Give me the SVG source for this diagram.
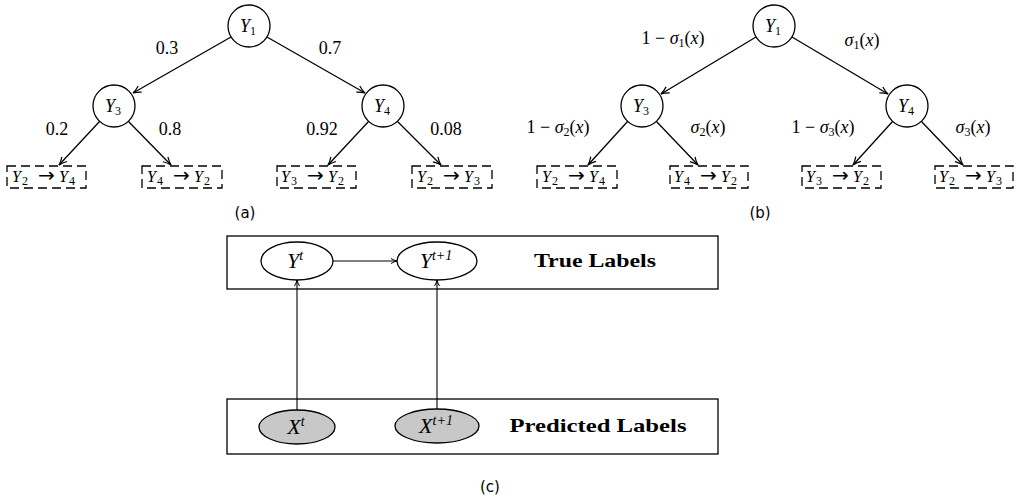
<svg xmlns="http://www.w3.org/2000/svg" width="1031" height="502" viewBox="0 0 1031 502">
<style>
.node{fill:#fff;stroke:#000;stroke-width:1.3}
.obs{fill:#c8c8c8;stroke:#000;stroke-width:1.3}
.edge{stroke:#000;stroke-width:1.3;fill:none;marker-end:url(#arr)}
.edge2{stroke:#000;stroke-width:1.1;fill:none;marker-end:url(#arr2)}
.leaf{fill:none;stroke:#000;stroke-width:1.3;stroke-dasharray:9,5}
.plate{fill:none;stroke:#000;stroke-width:1.3}
text{fill:#000;font-family:"Liberation Serif","Times New Roman","DejaVu Serif",serif}
.m{font-style:italic;font-size:18px}
.lf{font-style:italic;font-size:16px}
.n{font-size:18px}
.s{font-family:"DejaVu Sans","Liberation Sans",sans-serif;font-size:15px}
.b{font-weight:bold;font-size:19px}
.cv{font-style:italic;font-size:22px}
.sub{font-size:12px;font-style:normal}
.sup{font-size:14px}
.ar{font-style:normal;font-size:20px;font-family:"DejaVu Sans",sans-serif}
</style>
<defs>
<marker id="arr" markerUnits="userSpaceOnUse" markerWidth="12" markerHeight="10" refX="9" refY="5" orient="auto">
<path d="M1,1.5 Q5,4 9,5 Q5,6 1,8.5" fill="none" stroke="#000" stroke-width="1.2"/>
</marker>
<marker id="arr2" markerUnits="userSpaceOnUse" markerWidth="10" markerHeight="8" refX="7" refY="4" orient="auto">
<path d="M1,1.5 Q4,3.4 7,4 Q4,4.6 1,6.5" fill="none" stroke="#000" stroke-width="1"/>
</marker>
</defs>

<g id="connectors">
<line class="edge" x1="231" y1="37" x2="133" y2="93"/>
<line class="edge" x1="267" y1="37" x2="365" y2="93"/>
<line class="edge" x1="100" y1="121" x2="59" y2="165"/>
<line class="edge" x1="128" y1="121" x2="171" y2="165"/>
<line class="edge" x1="369" y1="121" x2="328" y2="165"/>
<line class="edge" x1="397" y1="121" x2="441" y2="165"/>
<line class="edge" x1="756" y1="37" x2="661" y2="94"/>
<line class="edge" x1="792" y1="37" x2="888" y2="94"/>
<line class="edge" x1="628" y1="121" x2="588" y2="165"/>
<line class="edge" x1="656" y1="121" x2="698" y2="165"/>
<line class="edge" x1="893" y1="121" x2="853" y2="165"/>
<line class="edge" x1="921" y1="121" x2="963" y2="165"/>
<line class="edge2" x1="333" y1="261" x2="397" y2="261"/>
<line class="edge2" x1="297" y1="410" x2="297" y2="280"/>
<line class="edge2" x1="437" y1="409" x2="437" y2="280"/>
</g>

<g id="labels-a">
<text class="n" x="167" y="54" text-anchor="middle">0.3</text>
<text class="n" x="330" y="54" text-anchor="middle">0.7</text>
<text class="n" x="57" y="135" text-anchor="middle">0.2</text>
<text class="n" x="170" y="135" text-anchor="middle">0.8</text>
<text class="n" x="322" y="135" text-anchor="middle">0.92</text>
<text class="n" x="446" y="135" text-anchor="middle">0.08</text>
</g>

<g id="labels-b">
<text class="n" x="673" y="44" text-anchor="middle">1 − <tspan font-style="italic">σ</tspan><tspan class="sub" dy="3">1</tspan><tspan dy="-3">(</tspan><tspan font-style="italic">x</tspan>)</text>
<text class="n" x="862" y="46" text-anchor="middle"><tspan font-style="italic">σ</tspan><tspan class="sub" dy="3">1</tspan><tspan dy="-3">(</tspan><tspan font-style="italic">x</tspan>)</text>
<text class="n" x="558" y="133" text-anchor="middle">1 − <tspan font-style="italic">σ</tspan><tspan class="sub" dy="3">2</tspan><tspan dy="-3">(</tspan><tspan font-style="italic">x</tspan>)</text>
<text class="n" x="708" y="133" text-anchor="middle"><tspan font-style="italic">σ</tspan><tspan class="sub" dy="3">2</tspan><tspan dy="-3">(</tspan><tspan font-style="italic">x</tspan>)</text>
<text class="n" x="823" y="133" text-anchor="middle">1 − <tspan font-style="italic">σ</tspan><tspan class="sub" dy="3">3</tspan><tspan dy="-3">(</tspan><tspan font-style="italic">x</tspan>)</text>
<text class="n" x="973" y="133" text-anchor="middle"><tspan font-style="italic">σ</tspan><tspan class="sub" dy="3">3</tspan><tspan dy="-3">(</tspan><tspan font-style="italic">x</tspan>)</text>
</g>

<g id="a-Y1"><circle class="node" cx="249" cy="26" r="21"/><text class="m" x="248" y="32" text-anchor="middle">Y<tspan class="sub" dy="3">1</tspan></text></g>
<g id="a-Y3"><circle class="node" cx="114" cy="106" r="21"/><text class="m" x="113" y="112" text-anchor="middle">Y<tspan class="sub" dy="3">3</tspan></text></g>
<g id="a-Y4"><circle class="node" cx="383" cy="106" r="21"/><text class="m" x="382" y="112" text-anchor="middle">Y<tspan class="sub" dy="3">4</tspan></text></g>

<g id="a-L1"><rect class="leaf" x="7" y="166" width="79" height="22"/><text class="lf" y="182"><tspan x="12">Y</tspan><tspan class="sub" x="22" dy="3">2</tspan><tspan class="ar" x="38" dy="-3">→</tspan><tspan x="59">Y</tspan><tspan class="sub" x="69" dy="3">4</tspan></text></g>
<g id="a-L2"><rect class="leaf" x="142" y="166" width="80" height="22"/><text class="lf" y="182"><tspan x="147">Y</tspan><tspan class="sub" x="157" dy="3">4</tspan><tspan class="ar" x="173" dy="-3">→</tspan><tspan x="194">Y</tspan><tspan class="sub" x="204" dy="3">2</tspan></text></g>
<g id="a-L3"><rect class="leaf" x="277" y="166" width="79" height="22"/><text class="lf" y="182"><tspan x="281">Y</tspan><tspan class="sub" x="291" dy="3">3</tspan><tspan class="ar" x="307" dy="-3">→</tspan><tspan x="328">Y</tspan><tspan class="sub" x="338" dy="3">2</tspan></text></g>
<g id="a-L4"><rect class="leaf" x="412" y="166" width="80" height="22"/><text class="lf" y="182"><tspan x="417">Y</tspan><tspan class="sub" x="427" dy="3">2</tspan><tspan class="ar" x="443" dy="-3">→</tspan><tspan x="464">Y</tspan><tspan class="sub" x="474" dy="3">3</tspan></text></g>

<g id="b-Y1"><circle class="node" cx="774" cy="26" r="21"/><text class="m" x="773" y="32" text-anchor="middle">Y<tspan class="sub" dy="3">1</tspan></text></g>
<g id="b-Y3"><circle class="node" cx="642" cy="106" r="21"/><text class="m" x="641" y="112" text-anchor="middle">Y<tspan class="sub" dy="3">3</tspan></text></g>
<g id="b-Y4"><circle class="node" cx="907" cy="106" r="21"/><text class="m" x="906" y="112" text-anchor="middle">Y<tspan class="sub" dy="3">4</tspan></text></g>

<g id="b-L1"><rect class="leaf" x="537" y="166" width="80" height="22"/><text class="lf" y="182"><tspan x="542">Y</tspan><tspan class="sub" x="552" dy="3">2</tspan><tspan class="ar" x="568" dy="-3">→</tspan><tspan x="589">Y</tspan><tspan class="sub" x="599" dy="3">4</tspan></text></g>
<g id="b-L2"><rect class="leaf" x="670" y="166" width="78" height="22"/><text class="lf" y="182"><tspan x="674">Y</tspan><tspan class="sub" x="684" dy="3">4</tspan><tspan class="ar" x="700" dy="-3">→</tspan><tspan x="721">Y</tspan><tspan class="sub" x="731" dy="3">2</tspan></text></g>
<g id="b-L3"><rect class="leaf" x="802" y="166" width="79" height="22"/><text class="lf" y="182"><tspan x="806">Y</tspan><tspan class="sub" x="816" dy="3">3</tspan><tspan class="ar" x="832" dy="-3">→</tspan><tspan x="853">Y</tspan><tspan class="sub" x="863" dy="3">2</tspan></text></g>
<g id="b-L4"><rect class="leaf" x="935" y="166" width="78" height="22"/><text class="lf" y="182"><tspan x="939">Y</tspan><tspan class="sub" x="949" dy="3">2</tspan><tspan class="ar" x="965" dy="-3">→</tspan><tspan x="986">Y</tspan><tspan class="sub" x="996" dy="3">3</tspan></text></g>

<text class="s" x="245" y="218" text-anchor="middle">(a)</text>
<text class="s" x="760" y="218" text-anchor="middle">(b)</text>

<g id="plate-true"><rect class="plate" x="227" y="236" width="491" height="53"/><text class="b" x="595" y="267" text-anchor="middle" textLength="122" lengthAdjust="spacingAndGlyphs">True Labels</text></g>
<g id="plate-pred"><rect class="plate" x="227" y="399" width="491" height="55"/><text class="b" x="598" y="432" text-anchor="middle" textLength="177" lengthAdjust="spacingAndGlyphs">Predicted Labels</text></g>
<g id="Yt"><ellipse class="node" cx="297" cy="261" rx="36" ry="19"/><text class="cv" x="295" y="268" text-anchor="middle">Y<tspan class="sup" dy="-8">t</tspan></text></g>
<g id="Yt1"><ellipse class="node" cx="437" cy="261" rx="40" ry="19"/><text class="cv" x="436" y="268" text-anchor="middle">Y<tspan class="sup" dy="-8">t+1</tspan></text></g>
<g id="Xt"><ellipse class="obs" cx="297" cy="427" rx="38" ry="17"/><text class="cv" x="296" y="434" text-anchor="middle">X<tspan class="sup" dy="-8">t</tspan></text></g>
<g id="Xt1"><ellipse class="obs" cx="437" cy="426" rx="42" ry="17"/><text class="cv" x="436" y="433" text-anchor="middle">X<tspan class="sup" dy="-8">t+1</tspan></text></g>
<text class="s" x="490" y="492" text-anchor="middle">(c)</text>
</svg>
